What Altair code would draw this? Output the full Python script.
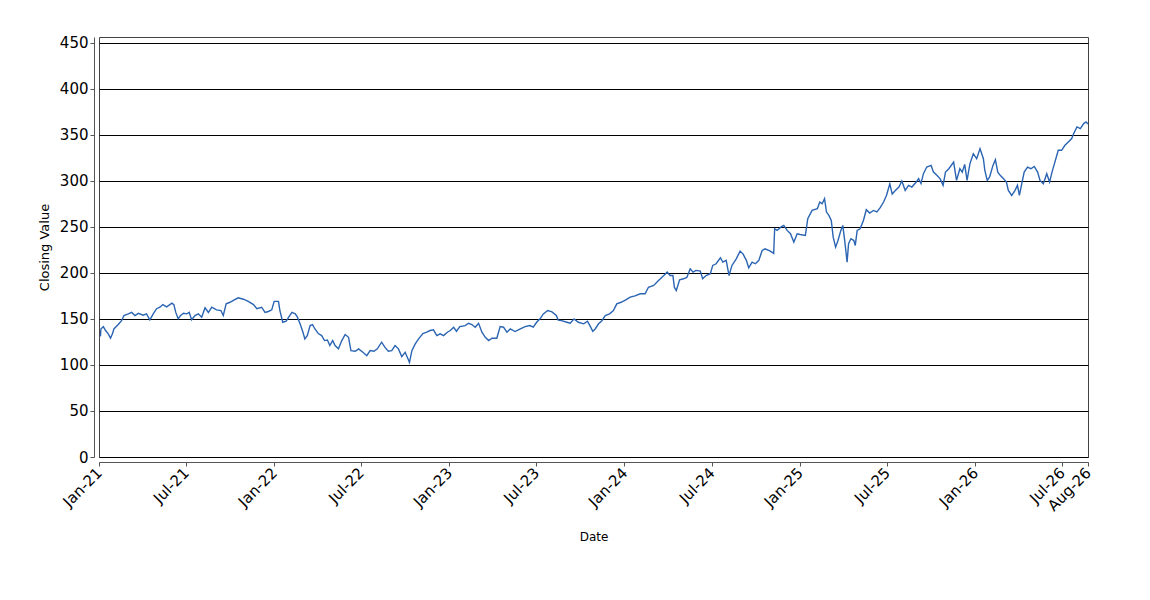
import altair as alt
import pandas as pd

# days since 2021-01-01 and closing values
day_offsets = [
    3, 4, 9, 14, 19, 24, 28, 31, 40, 47, 52, 61, 68, 75, 82, 92, 99, 106, 113, 120,
    127, 133, 141, 152, 156, 160, 165, 170, 176, 183, 188, 193, 200, 207, 214, 221,
    228, 235, 245, 254, 259, 265, 273, 280, 290, 301, 311, 322, 329, 339, 346, 353,
    360, 365, 374, 377, 383, 390, 395, 402, 409, 413, 419, 425, 429, 434, 440, 445,
    450, 457, 464, 470, 476, 481, 487, 492, 499, 506, 513, 520, 525, 534, 541, 550,
    558, 565, 573, 580, 589, 596, 603, 610, 617, 624, 631, 638, 644, 647, 652, 659,
    666, 675, 683, 690, 697, 704, 711, 718, 726,
    732, 739, 745, 752, 763, 770, 777, 784, 791, 798, 805, 812, 819, 829, 836, 843,
    850, 857, 867, 878, 888, 898, 905, 912, 919, 926, 935, 944, 953, 957, 964, 975,
    982, 990, 999, 1010, 1018, 1023, 1029, 1034, 1041, 1048, 1055, 1064, 1072, 1079,
    1088, 1096,
    1107, 1117, 1128, 1138, 1145, 1156, 1166, 1177, 1184, 1190, 1196, 1199, 1203,
    1210, 1218, 1225, 1232, 1238, 1244, 1253, 1258, 1265, 1274, 1279, 1286, 1295,
    1300, 1307, 1313, 1319, 1328, 1336, 1342, 1349, 1354, 1361, 1368, 1375, 1382,
    1388, 1399, 1406, 1408, 1413, 1421, 1427, 1434, 1441, 1448, 1455,
    1461, 1472, 1477, 1486, 1497, 1502, 1507, 1512, 1516, 1521, 1526, 1530, 1535,
    1540, 1546, 1550, 1554, 1559, 1562, 1567, 1573, 1576, 1580, 1586, 1593, 1599,
    1606, 1614, 1621, 1628, 1635, 1641, 1648, 1653, 1660, 1667, 1673, 1680, 1687,
    1694, 1703, 1708, 1713, 1718, 1725, 1734, 1739, 1746,
    1753, 1759, 1764, 1771, 1781, 1787, 1794, 1799, 1804, 1809, 1815, 1822, 1829,
    1836, 1843, 1846, 1851, 1856, 1863, 1868, 1873, 1878, 1885, 1891, 1895, 1902,
    1909, 1914, 1918, 1923, 1928, 1935, 1942, 1949, 1956, 1961, 1968, 1975, 1981,
    1986, 1992, 1999, 2006, 2013, 2020, 2027, 2031, 2038, 2045, 2052, 2057, 2061,
]

closing = [
    131, 139, 141.6, 137, 134, 129, 133.7, 139, 143.8, 148, 153.6, 155.4, 157, 153.6,
    156, 154, 155.4, 149, 155.4, 161, 162.6, 165.5, 163, 167, 165.5, 157, 150, 153.6,
    156, 155.4, 157, 149, 153.6, 155.4, 151.7, 162, 157, 162.6, 159.8, 159, 153.6,
    166.3, 168, 170, 172.8, 171.3, 169, 165.5, 161, 162.6, 157, 158,
    159.8, 169, 169, 159, 146.3, 147.4, 151.7, 157, 155.4, 152.4, 144.6, 135.5, 128.3,
    131.8, 142.7, 143.8, 139, 134, 131.8, 126.4, 127, 121, 126.4, 121, 117.4, 126.4,
    133, 130, 115.5, 114.8, 117.4, 113.7, 110, 115.5, 114.8, 117.4, 124.6, 119, 114.8,
    115.5, 121, 117.4, 109, 113.7, 106.5, 102.8, 115.5, 122.8, 128.3, 134, 135.5,
    137.3, 138, 131.8, 133.7, 131.8, 135.5,
    137.3, 140.9, 136.5, 141.6, 142.7, 145.2, 143.8, 140.9, 145.2, 135.5, 130, 126.4,
    129, 129, 141.6, 140.9, 135.5, 139, 136.2, 139, 141.6, 142.7, 140.9, 146.3, 150,
    155.4, 159, 157.5, 153.6, 148.6, 148, 146.3, 145.2, 150, 146.3, 144.6, 147.4,
    142.7, 136.5, 139, 144.6, 148, 153.6, 155.4, 159, 166.3, 168, 170,
    173.5, 175, 177.2, 177.2, 184.3, 186.2, 191.6, 197, 200.7, 197, 197, 184.3, 180.8,
    192.4, 193.5, 195, 204.3, 200.7, 202.6, 201.9, 193.5, 197, 199, 208, 209.8, 216.3,
    211.6, 213.5, 197, 208, 215.2, 223.5, 220.6, 213.5, 205.4, 211.6, 209.8, 213.5,
    224.2, 226, 223.5, 221, 247.8, 246, 249.6, 251.4, 246, 242.4, 233.3, 242.4,
    241.6, 240.5, 258.7, 267.7, 269.6, 276.8, 275, 280.4, 265.9, 262.3, 256.8, 238.7,
    227.8, 235, 246, 251.4, 235, 211.5, 231.5, 237, 235, 229.7, 246, 247.8, 256.8,
    268.5, 264.8, 267.7, 266, 270.7, 276.8, 284, 296.7, 285.5, 289.5, 293.1, 299.6,
    289.5, 295, 293.1, 298.5, 302.2, 297, 307.6, 314.8, 316.6, 309.3, 305.8,
    302, 295, 309.3, 313, 320.2, 300.3, 313, 309.3, 317.7, 300.3, 318.5, 329.3, 323.9,
    334.8, 323.9, 311.2, 300.3, 304, 316.6, 322.8, 309.3, 305.8, 302.2, 298.5, 289.5,
    284, 289.5, 295, 284, 296.7, 309.3, 314.8, 313, 315.5, 309.3, 300.3, 296.7, 307.6,
    298.5, 309.3, 320.2, 333, 333, 338.4, 342, 345.7, 351, 358.3, 356.5, 362, 363.7,
    361.5,
]

y_ticks = [0, 50, 100, 150, 200, 250, 300, 350, 400, 450]
x_tick_dates = [
    (2021, 1, 1), (2021, 7, 1), (2022, 1, 1), (2022, 7, 1), (2023, 1, 1),
    (2023, 7, 1), (2024, 1, 1), (2024, 7, 1), (2025, 1, 1), (2025, 7, 1),
    (2026, 1, 1), (2026, 7, 1), (2026, 8, 24),
]

dates = (pd.Timestamp("2021-01-01") + pd.to_timedelta(day_offsets, unit="D")).strftime("%Y-%m-%d")
df = pd.DataFrame({"Date": list(dates), "Close": closing})

tick_values = [alt.DateTime(year=y, month=m, date=d, utc=True) for (y, m, d) in x_tick_dates]

line = (
    alt.Chart(df)
    .mark_line(color="#2a64b2", strokeWidth=1.4)
    .encode(
        x=alt.X(
            "Date:T",
            title="Date",
            scale=alt.Scale(
                type="utc",
                domain=[
                    alt.DateTime(year=2021, month=1, date=1, utc=True),
                    alt.DateTime(year=2026, month=8, date=24, utc=True),
                ],
            ),
            axis=alt.Axis(
                values=tick_values,
                format="%b-%y",
                labelAngle=-45,
                labelAlign="right",
                labelBaseline="middle",
                labelFont="DejaVu Sans",
                labelFontSize=15,
                labelColor="black",
                labelPadding=4,
                labelOverlap=False,
                labelFlush=False,
                grid=False,
                offset=5,
                domainColor="#555555",
                tickColor="#555555",
                tickSize=4,
                titleFont="DejaVu Sans",
                titleFontSize=12,
                titleFontWeight="normal",
                titleColor="black",
                titlePadding=18,
            ),
        ),
        y=alt.Y(
            "Close:Q",
            title="Closing Value",
            scale=alt.Scale(domain=[0, 456], nice=False, zero=True),
            axis=alt.Axis(
                values=y_ticks,
                labelFont="DejaVu Sans",
                labelFontSize=15,
                labelColor="black",
                labelPadding=2,
                grid=True,
                gridColor="black",
                gridWidth=1,
                gridOpacity=1,
                offset=5,
                domainColor="#555555",
                tickColor="#555555",
                tickSize=4,
                titleFont="DejaVu Sans",
                titleFontSize=13,
                titleFontWeight="normal",
                titleColor="black",
                titlePadding=8,
            ),
        ),
    )
    .properties(
        width=989,
        height=420,
        background="white",
        autosize=alt.AutoSizeParams(type="none"),
        padding={"left": 91, "top": 29, "right": 40, "bottom": 110},
    )
)

chart = line.configure_view(stroke="#444444", strokeWidth=1)

chart.save("out.html", embed_options={"renderer": "svg", "actions": False})
